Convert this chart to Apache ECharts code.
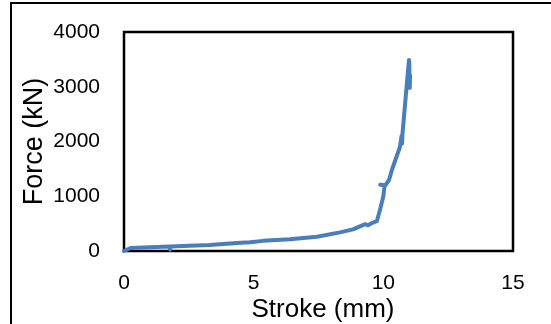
<!DOCTYPE html>
<html>
<head>
<meta charset="utf-8">
<script src="https://cdn.jsdelivr.net/npm/echarts@6/dist/echarts.min.js"></script>
<style>
html,body{margin:0;padding:0;background:#fff;}
#chart{width:551px;height:324px;}
</style>
</head>
<body>
<div id="chart"></div>
<script>
// Data (Stroke in mm, Force in kN)
const strokeMm = [0.00, 0.05, 0.25, 1.00, 1.76, 1.78, 1.80, 2.50, 3.30, 4.50, 4.86, 5.36, 6.40, 7.44, 8.33, 8.83, 9.30, 9.41, 9.60, 9.75, 9.87, 10.00, 10.05, 9.88, 10.08, 10.22, 10.33, 10.64, 10.70, 10.72, 10.74, 10.91, 10.99, 11.00, 11.02, 11.03];
const forceKN  = [0,    25,   55,   68,   80,   25,   82,   95,   110,  150,  160,  185,  215,  260,  340,  395,  490,  470,  520,  545,  750,  1000,  1200,  1210, 1200,  1300,  1480,  1900,  2100,  1960,  2150,  3070,  3490,  3450,  2980,  3200];
const xTicks = [0, 5, 10, 15];
const yTicks = [0, 1000, 2000, 3000, 4000];

const points = strokeMm.map((x, i) => [x, forceKN[i]]);
const chart = echarts.init(document.getElementById('chart'));
const font = '"Liberation Sans", Arial, sans-serif';
chart.setOption({
  animation: false,
  backgroundColor: '#fff',
  grid: {left: 124, top: 32, right: 38, bottom: 73, containLabel: false, outerBoundsMode: 'none',
         show: true, borderColor: '#000', borderWidth: 2.5, backgroundColor: 'transparent'},
  xAxis: {
    type: 'value', min: xTicks[0], max: xTicks[xTicks.length - 1], interval: 5,
    name: 'Stroke (mm)', nameLocation: 'middle', nameGap: 46, nameMoveOverlap: false,
    nameTextStyle: {fontFamily: font, fontSize: 26, color: '#000', padding: [0, 0, 0, 9]},
    axisLine: {show: false}, axisTick: {show: false}, splitLine: {show: false},
    axisLabel: {fontFamily: font, fontSize: 21, color: '#000', margin: 22, formatter: v => String(v)}
  },
  yAxis: {
    type: 'value', min: yTicks[0], max: yTicks[yTicks.length - 1], interval: 1000,
    name: 'Force (kN)', nameLocation: 'middle', nameGap: 76, nameRotate: 90, nameMoveOverlap: false,
    nameTextStyle: {fontFamily: font, fontSize: 27, color: '#000'},
    axisLine: {show: false}, axisTick: {show: false}, splitLine: {show: false},
    axisLabel: {fontFamily: font, fontSize: 21, color: '#000', margin: 24, formatter: v => String(v)}
  },
  graphic: [{
    type: 'rect', silent: true, z: -1,
    shape: {x: 11, y: 3, width: 700, height: 500},
    style: {fill: 'none', stroke: '#000', lineWidth: 2}
  }],
  series: [{
    type: 'line', data: points, showSymbol: false, smooth: false,
    lineStyle: {color: '#4A7EBB', width: 4, join: 'round', cap: 'round'},
    clip: false
  }]
});
</script>
</body>
</html>
